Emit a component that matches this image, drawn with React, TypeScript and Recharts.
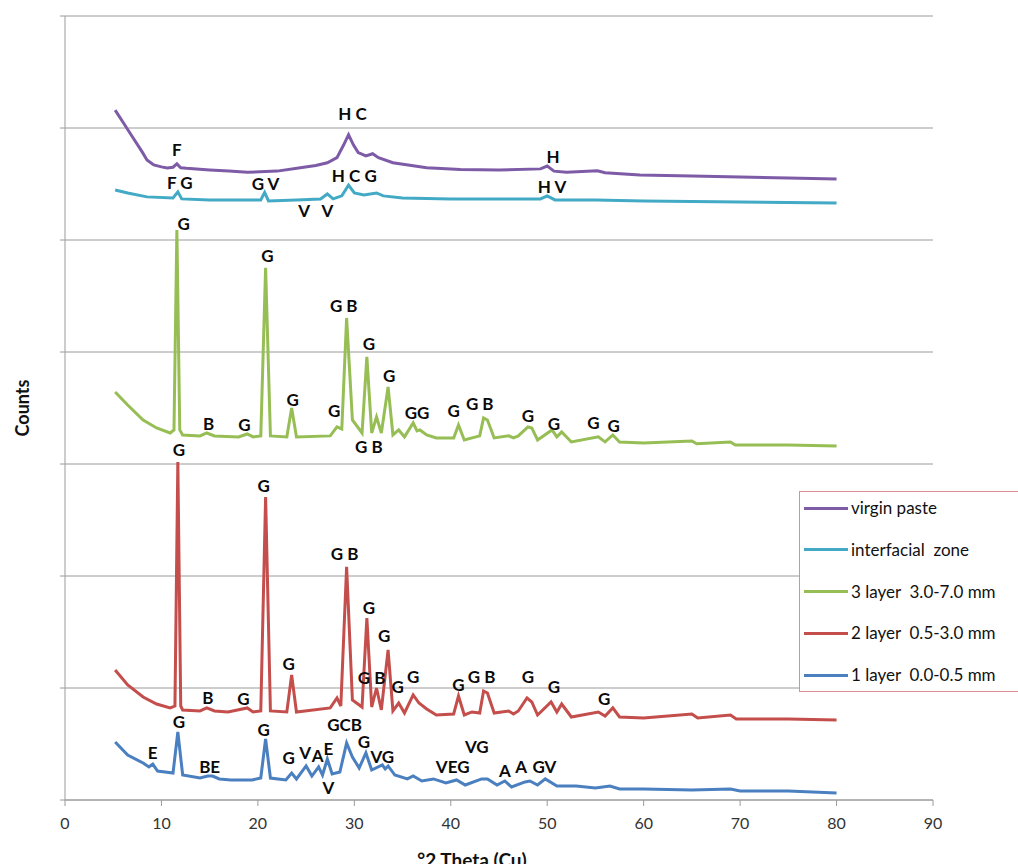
import React from 'react';
import { LineChart, Line, XAxis, YAxis, CartesianGrid, Legend, ReferenceDot } from 'recharts';

type Pt = [number, number];
type Lab = [number, number, string];

const xTicks = [0, 10, 20, 30, 40, 50, 60, 70, 80, 90];
const yTicks = [0, 1000, 2000, 3000, 4000, 5000, 6000, 7000];

const virginPaste: Pt[] = [
  [5.2, 6160], [6.0, 6054], [7.0, 5920], [8.0, 5787], [8.5, 5715], [9.2, 5671], [10.0, 5653],
  [10.6, 5644], [11.2, 5650], [11.6, 5680], [12.0, 5645], [12.6, 5640], [15.0, 5625], [17.0, 5615],
  [18.9, 5605], [22.0, 5615], [24.4, 5645], [26.0, 5665], [27.2, 5690], [28.2, 5735], [28.9, 5850],
  [29.4, 5940], [29.9, 5850], [30.4, 5780], [31.2, 5750], [31.9, 5770], [32.5, 5735], [34.0, 5690],
  [37.5, 5645], [41.0, 5630], [45.0, 5625], [49.3, 5635], [50.0, 5660], [50.7, 5615], [52.0, 5605],
  [55.2, 5618], [56.0, 5600], [59.6, 5580], [65.0, 5572], [70.0, 5563], [75.0, 5554], [80.0, 5545],
];

const interfacialZone: Pt[] = [
  [5.2, 5447], [6.5, 5420], [8.5, 5385], [11.2, 5376], [11.7, 5430], [12.1, 5367], [15.0, 5358],
  [18.0, 5358], [20.3, 5358], [20.7, 5425], [21.1, 5349], [24.0, 5358], [26.5, 5367], [27.2, 5411],
  [27.8, 5367], [28.7, 5394], [29.4, 5490], [30.0, 5420], [31.0, 5403], [32.3, 5420], [33.0, 5394],
  [35.0, 5376], [40.0, 5367], [44.0, 5367], [49.3, 5367], [50.0, 5394], [50.8, 5358], [55.0, 5358],
  [60.0, 5349], [70.0, 5340], [80.0, 5331],
];

const layer3: Pt[] = [
  [5.2, 3643], [6.5, 3527], [8.1, 3393], [9.5, 3322], [10.9, 3277], [11.3, 3304], [11.6, 5090],
  [11.9, 3304], [12.2, 3259], [14.0, 3251], [14.7, 3277], [15.5, 3251], [18.0, 3242], [18.9, 3268],
  [19.5, 3242], [20.3, 3251], [20.8, 4751], [21.3, 3251], [23.0, 3242], [23.5, 3501], [24.0, 3242],
  [27.5, 3251], [28.2, 3331], [28.7, 3313], [29.2, 4304], [29.8, 3393], [30.8, 3277], [31.3, 3956],
  [31.8, 3277], [32.3, 3420], [32.8, 3277], [33.5, 3688], [34.0, 3259], [34.6, 3304], [35.2, 3242],
  [36.1, 3367], [36.5, 3295], [36.8, 3304], [37.5, 3259], [38.5, 3233], [40.3, 3233], [40.8, 3349],
  [41.4, 3215], [43.0, 3251], [43.4, 3411], [43.8, 3393], [44.5, 3233], [46.0, 3251], [46.5, 3233],
  [47.0, 3251], [48.0, 3331], [48.4, 3322], [49.0, 3215], [50.5, 3304], [51.0, 3242], [51.5, 3286],
  [52.5, 3197], [55.3, 3242], [56.0, 3197], [56.8, 3259], [57.5, 3197], [60.0, 3188], [65.0, 3206],
  [65.5, 3180], [69.0, 3197], [69.5, 3170], [75.0, 3170], [80.0, 3161],
];

const layer2: Pt[] = [
  [5.2, 1161], [6.5, 1027], [8.1, 920], [9.5, 857], [10.9, 822], [11.4, 839], [11.7, 3018],
  [12.0, 839], [12.2, 804], [14.0, 795], [14.7, 822], [15.5, 795], [16.9, 786], [18.9, 822],
  [19.5, 786], [20.3, 795], [20.8, 2706], [21.3, 795], [23.0, 786], [23.5, 1116], [24.0, 786],
  [27.5, 822], [28.2, 911], [28.6, 839], [29.2, 2081], [29.8, 893], [30.8, 830], [31.3, 1625],
  [31.8, 830], [32.3, 1000], [32.8, 804], [33.5, 1340], [34.0, 795], [34.6, 866], [35.2, 777],
  [36.1, 938], [36.7, 866], [37.5, 813], [38.5, 759], [40.3, 768], [40.8, 929], [41.4, 759],
  [42.2, 786], [43.0, 777], [43.4, 973], [43.8, 955], [44.5, 777], [46.0, 795], [46.5, 768],
  [47.0, 795], [47.9, 911], [48.4, 875], [49.0, 759], [50.4, 875], [51.0, 786], [51.5, 857],
  [52.5, 741], [55.3, 786], [56.0, 750], [56.8, 822], [57.5, 741], [60.0, 732], [65.0, 768],
  [65.6, 732], [69.0, 759], [69.6, 723], [75.0, 723], [80.0, 714],
];

const layer1: Pt[] = [
  [5.2, 518], [6.5, 402], [8.1, 330], [8.7, 295], [9.1, 321], [9.6, 259], [11.2, 241], [11.7, 607],
  [12.2, 223], [14.0, 196], [14.8, 214], [15.3, 214], [16.0, 188], [17.2, 179], [19.4, 179],
  [20.3, 196], [20.8, 545], [21.3, 196], [22.9, 179], [23.5, 241], [24.0, 188], [25.0, 304],
  [25.6, 214], [26.3, 295], [26.7, 223], [27.2, 366], [27.7, 232], [28.5, 250], [29.2, 509],
  [29.8, 384], [30.5, 286], [31.2, 420], [31.8, 268], [32.9, 313], [33.2, 277], [33.5, 304],
  [34.2, 223], [35.5, 188], [36.1, 214], [37.0, 170], [38.2, 188], [39.5, 152], [40.6, 179],
  [41.5, 134], [43.2, 188], [43.8, 188], [44.8, 134], [45.6, 170], [46.3, 116], [47.7, 161],
  [48.2, 170], [49.0, 134], [49.8, 188], [51.0, 125], [53.0, 125], [55.0, 107], [56.5, 125],
  [57.5, 98], [60.0, 98], [65.0, 89], [69.0, 98], [70.0, 80], [75.0, 80], [80.0, 62],
];

const virginLabels: Lab[] = [
  [11.6, 5804, 'F'], [29.8, 6126, 'H C'], [50.6, 5742, 'H'],
];
const interfacialLabels: Lab[] = [
  [11.9, 5510, 'F G'], [20.8, 5501, 'G V'], [24.8, 5260, 'V'], [27.2, 5260, 'V'],
  [30.0, 5572, 'H C G'], [50.5, 5474, 'H V'],
];
const layer3Labels: Lab[] = [
  [12.3, 5144, 'G'], [21.0, 4858, 'G'], [28.9, 4411, 'G B'], [31.5, 4072, 'G'], [33.6, 3786, 'G'],
  [23.6, 3572, 'G'], [14.9, 3358, 'B'], [18.6, 3349, 'G'], [27.9, 3474, 'G'], [31.5, 3152, 'G B'],
  [36.5, 3456, 'GG'], [40.3, 3474, 'G'], [43.0, 3536, 'G B'], [48.0, 3429, 'G'], [50.7, 3358, 'G'],
  [54.8, 3367, 'G'], [56.9, 3340, 'G'],
];
const layer2Labels: Lab[] = [
  [11.8, 3126, 'G'], [20.6, 2804, 'G'], [29.0, 2197, 'G B'], [31.5, 1715, 'G'], [33.1, 1465, 'G'],
  [23.2, 1214, 'G'], [14.8, 911, 'B'], [18.5, 902, 'G'], [31.8, 1089, 'G B'], [34.5, 1009, 'G'],
  [36.1, 1098, 'G'], [40.8, 1027, 'G'], [43.2, 1098, 'G B'], [48.0, 1098, 'G'], [50.7, 1009, 'G'],
  [55.9, 902, 'G'],
];
const layer1Labels: Lab[] = [
  [9.1, 420, 'E'], [11.8, 697, 'G'], [15.0, 295, 'BE'], [20.6, 625, 'G'], [23.2, 375, 'G'],
  [24.9, 420, 'V'], [26.2, 393, 'A'], [27.3, 455, 'E'], [27.3, 107, 'V'], [29.0, 670, 'GCB'],
  [31.0, 518, 'G'], [32.9, 384, 'VG'], [40.2, 295, 'VEG'], [42.7, 473, 'VG'], [45.6, 259, 'A'],
  [47.3, 295, 'A'], [49.7, 295, 'GV'],
];

const seriesList = [
  { name: 'virgin paste', color: '#7D5BA6', points: virginPaste, labels: virginLabels },
  { name: 'interfacial  zone', color: '#43AAC6', points: interfacialZone, labels: interfacialLabels },
  { name: '3 layer  3.0-7.0 mm', color: '#96BE55', points: layer3, labels: layer3Labels },
  { name: '2 layer  0.5-3.0 mm', color: '#C44E4B', points: layer2, labels: layer2Labels },
  { name: '1 layer  0.0-0.5 mm', color: '#4A7FC0', points: layer1, labels: layer1Labels },
];

const FONT = "Lato, 'Open Sans', sans-serif";
const GRID = '#9A9A9A';

function LegendBox() {
  return (
    <div
      style={{
        width: 226,
        height: 201,
        border: '1.5px solid #DC8E96',
        background: '#fff',
        boxSizing: 'border-box',
        position: 'relative',
        fontFamily: FONT,
      }}
    >
      {seriesList.map((s, i) => (
        <div
          key={s.name}
          style={{
            position: 'absolute',
            left: 4,
            top: 4 + i * 41.75,
            height: 24,
            display: 'flex',
            alignItems: 'center',
            whiteSpace: 'pre',
          }}
        >
          <span style={{ display: 'inline-block', width: 44, height: 3, background: s.color, marginRight: 3 }} />
          <span style={{ fontSize: 17, color: '#111', lineHeight: '24px' }}>{s.name}</span>
        </div>
      ))}
    </div>
  );
}

export default function App() {
  return (
    <div style={{ position: 'absolute', left: 0, top: 0, width: 1018, height: 864, overflow: 'hidden', background: '#fff' }}>
      <LineChart width={1018} height={864} margin={{ top: 16, right: 85, bottom: 0, left: 5 }}>
        <CartesianGrid horizontal vertical={false} stroke={GRID} strokeWidth={1} />
        <XAxis
          type="number"
          dataKey="x"
          domain={[0, 90]}
          ticks={xTicks}
          allowDataOverflow
          height={64}
          tickSize={6}
          tickMargin={12}
          stroke={GRID}
          tick={{ fill: '#333', fontSize: 16, fontFamily: FONT }}
          label={{
            content: () => (
              <text x={472} y={867} textAnchor="middle" fontSize={19} fontWeight="bold" fontFamily={FONT} fill="#111">
                °2 Theta (Cu)
              </text>
            ),
          }}
        />
        <YAxis
          type="number"
          domain={[0, 7000]}
          ticks={yTicks}
          width={60}
          tick={() => <g />}
          tickSize={5}
          stroke={GRID}
          label={{
            content: () => (
              <text
                x={22}
                y={408}
                transform="rotate(-90, 22, 408)"
                textAnchor="middle"
                dominantBaseline="central"
                fontSize={18}
                fontWeight="bold"
                fontFamily={FONT}
                fill="#111"
              >
                Counts
              </text>
            ),
          }}
        />
        {seriesList.map((s) => (
          <Line
            key={s.name}
            name={s.name}
            data={s.points.map(([x, y]) => ({ x, y }))}
            dataKey="y"
            type="linear"
            stroke={s.color}
            strokeWidth={3}
            dot={false}
            activeDot={false}
            isAnimationActive={false}
          />
        ))}
        {seriesList.flatMap((s) =>
          s.labels.map(([x, y, t], i) => (
            <ReferenceDot
              key={s.name + i}
              x={x}
              y={y}
              r={0}
              fill="none"
              stroke="none"
              label={{ value: t, position: 'center', fill: '#0a0a0a', fontSize: 17, fontWeight: 'bold', fontFamily: FONT }}
            />
          ))
        )}
        <Legend
          layout="vertical"
          align="center"
          verticalAlign="middle"
          content={() => <LegendBox />}
          wrapperStyle={{ left: 799, top: 491, width: 226, height: 201 }}
        />
      </LineChart>
    </div>
  );
}
